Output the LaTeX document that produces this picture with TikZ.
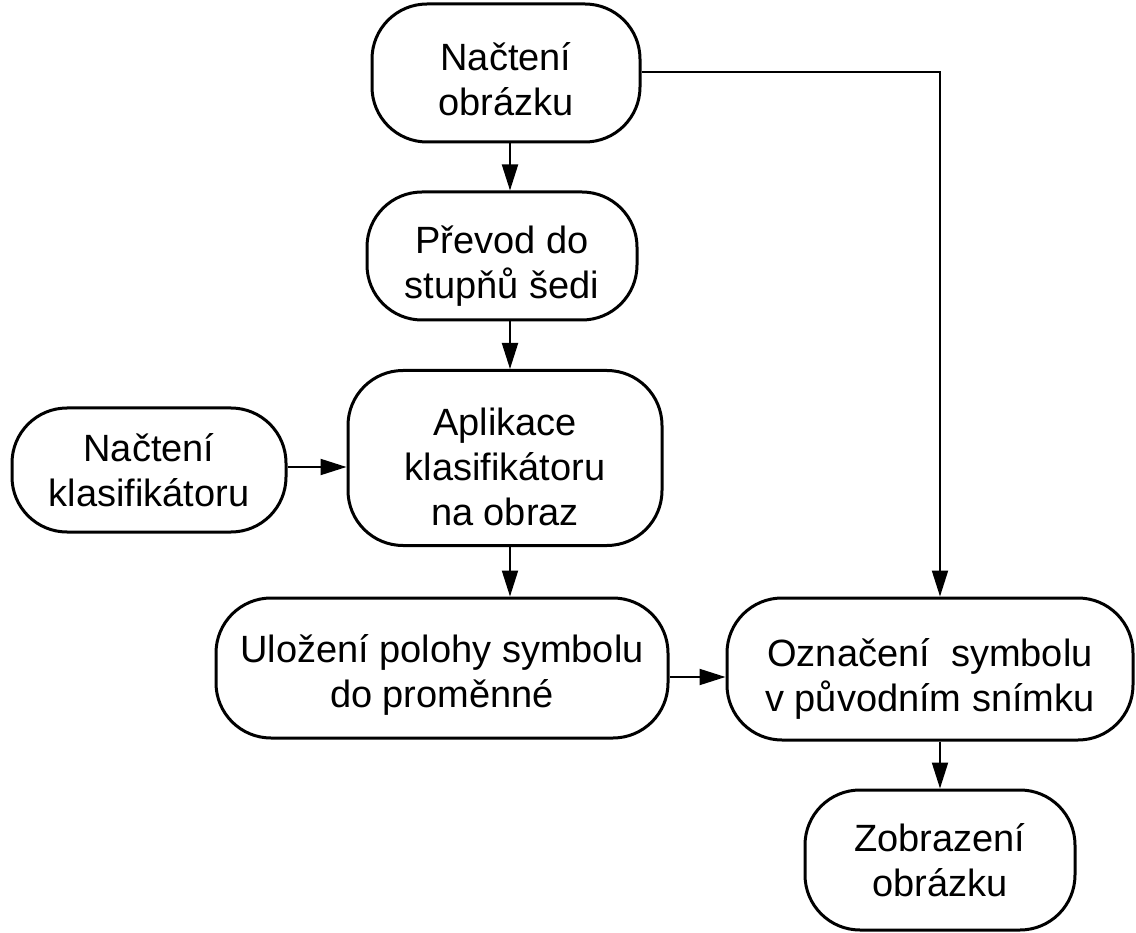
\documentclass[tikz,border=0pt]{standalone}
\usepackage{fontspec}
\setmainfont{Liberation Sans}
\usetikzlibrary{arrows.meta}
\begin{document}
\begin{tikzpicture}[x=1pt,y=-1pt,
  box/.style={draw, line width=3pt, rounded corners=55pt, inner sep=0pt},
  txt/.style={align=center, inner sep=0pt, font=\fontsize{38}{45}\selectfont},
  arr/.style={line width=2pt, -{Triangle[length=26pt,width=16pt]}}]
\useasboundingbox (0,0) rectangle (1136,933);
\node[box, minimum width=268pt, minimum height=138pt,
  label={[txt,yshift=-6pt]center:{Načtení\\obrázku}}] (n1) at (506,73) {};
\node[box, minimum width=270pt, minimum height=128pt,
  label={[txt,yshift=-10pt]center:{Převod do\\stupňů šedi}}] (n2) at (502,256) {};
\node[box, minimum width=314pt, minimum height=175pt,
  label={[txt,yshift=-9pt]center:{Aplikace\\klasifikátoru\\na obraz}}] (n3) at (505,458) {};
\node[box, minimum width=274pt, minimum height=124pt,
  label={[txt]center:{Načtení\\klasifikátoru}}] (n4) at (149,470) {};
\node[box, minimum width=452pt, minimum height=140pt,
  label={[txt,yshift=-7pt]center:{Uložení polohy symbolu\\do proměnné}}] (n5) at (442,668) {};
\node[box, minimum width=406pt, minimum height=142pt,
  label={[txt,yshift=-10pt]center:{Označení~ symbolu\\v původním snímku}}] (n6) at (930,669) {};
\node[box, minimum width=270pt, minimum height=140pt,
  label={[txt]center:{Zobrazení\\obrázku}}] (n7) at (940,860) {};
\coordinate (cx) at (510,0);
\coordinate (ya) at (0,467);
\coordinate (yb) at (0,677);
\coordinate (yc) at (0,72);
\draw[arr] (n1.south -| cx) -- (n2.north -| cx);
\draw[arr] (n2.south -| cx) -- (n3.north -| cx);
\draw[arr] (n3.south -| cx) -- (n5.north -| cx);
\draw[arr] (n4.east |- ya) -- (n3.west |- ya);
\draw[arr] (n5.east |- yb) -- (n6.west |- yb);
\draw[arr] (n1.east |- yc) -| (n7.north |- n6.north);
\draw[arr] (n7.north |- n6.south) -- (n7.north);
\end{tikzpicture}
\end{document}
